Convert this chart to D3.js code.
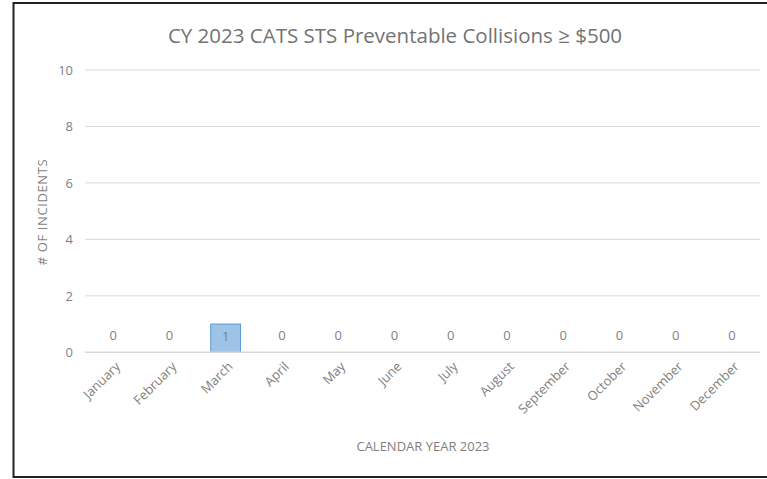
<!DOCTYPE html>
<html><head><meta charset="utf-8">
<script src="https://cdn.jsdelivr.net/npm/d3@7"></script>
<style>body{margin:0;background:#fff;} svg{display:block;}</style>
</head><body>
<svg id="c" width="767" height="479"></svg>
<script>
const months = ["January","February","March","April","May","June","July","August","September","October","November","December"];
const incidents = [0,0,1,0,0,0,0,0,0,0,0,0];
const yTicks = [0,2,4,6,8,10];
const title = "CY 2023 CATS STS Preventable Collisions ≥ $500";
const yTitle = "# OF INCIDENTS";
const xTitle = "CALENDAR YEAR 2023";

const svg = d3.select("#c");
const font = "'Open Sans', sans-serif";
const grey = "#7f7f7f";
svg.append("rect").attr("x",0).attr("y",0).attr("width",767).attr("height",479).attr("fill","#fff");
svg.append("rect").attr("x",13.5).attr("y",3).attr("width",770).attr("height",474)
  .attr("fill","none").attr("stroke","#222").attr("stroke-width",2);

const m = {l:85, r:760, t:70, b:352.3};
const x = d3.scaleBand().domain(months).range([m.l,m.r]).paddingInner(0.47).paddingOuter(0.235);
const y = d3.scaleLinear().domain([0,10]).range([m.b,m.t]);

// gridlines
svg.append("g").selectAll("line").data(yTicks.filter(d=>d>0)).join("line")
  .attr("x1",m.l).attr("x2",m.r).attr("y1",d=>y(d)).attr("y2",d=>y(d))
  .attr("stroke","#d9d9d9").attr("stroke-width",1);

// y tick labels
const yAxis = d3.axisLeft(y).tickValues(yTicks).tickSize(0).tickPadding(12);
const ya = svg.append("g").attr("transform",`translate(${m.l},0)`).call(yAxis);
ya.select(".domain").remove();
ya.selectAll("text").attr("font-family",font).attr("font-size",13).attr("fill",grey);

// bars
svg.append("g").selectAll("rect").data(incidents).join("rect")
  .attr("x",(d,i)=>x(months[i])).attr("width",x.bandwidth())
  .attr("y",d=>y(d)).attr("height",d=>y(0)-y(d))
  .attr("fill","#9dc3e6").attr("stroke","#5b9bd5").attr("stroke-width",1);

// x axis line
svg.append("line").attr("x1",m.l).attr("x2",m.r).attr("y1",y(0)).attr("y2",y(0))
  .attr("stroke","#d9d9d9").attr("stroke-width",1.5);

// data labels
svg.append("g").selectAll("text").data(incidents).join("text")
  .attr("x",(d,i)=>x(months[i])+x.bandwidth()/2).attr("y",d=> d>0 ? y(d)+17 : y(d)-12)
  .attr("text-anchor","middle").attr("font-family",font).attr("font-size",13)
  .attr("fill",grey).text(d=>d);

// x labels
const xAxis = d3.axisBottom(x).tickSize(0).tickPadding(0);
const xa = svg.append("g").attr("transform",`translate(0,${m.b})`).call(xAxis);
xa.select(".domain").remove();
xa.selectAll("text").attr("font-family",font).attr("font-size",13).attr("fill",grey)
  .attr("text-anchor","end").attr("dy",0)
  .attr("transform","translate(8,15) rotate(-45)");

// titles
svg.append("text").attr("x",395).attr("y",43).attr("text-anchor","middle")
  .attr("font-family",font).attr("font-size",20.5).attr("fill","#737373").text(title);
svg.append("text").attr("transform","translate(47,212) rotate(-90)").attr("text-anchor","middle")
  .attr("font-family",font).attr("font-size",13).attr("letter-spacing",0.6).attr("fill",grey).text(yTitle);
svg.append("text").attr("x",423).attr("y",451).attr("text-anchor","middle")
  .attr("font-family",font).attr("font-size",13).attr("fill",grey).text(xTitle);
</script>
</body></html>
